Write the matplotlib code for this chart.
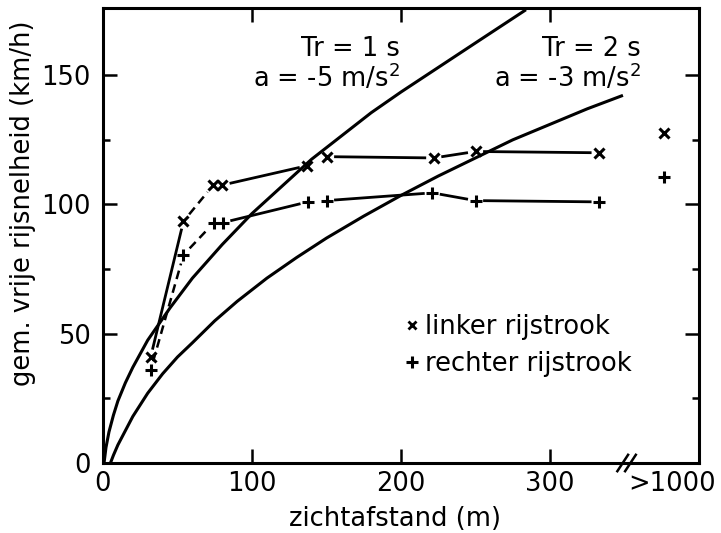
import numpy as np
import matplotlib.pyplot as plt
from matplotlib.lines import Line2D

plt.rcParams['font.family'] = ['DejaVu Sans']

# stopping-sight curves, values (m -> km/h)
curve1_x = [0.7, 2, 4, 7, 10, 15, 20, 30, 45, 60, 80, 100, 120, 140, 160, 180, 200, 225, 250, 283]
curve1_y = [0, 6, 12, 18.5, 24, 31, 37, 47.5, 60, 71.5, 84.5, 96.5, 107, 117.5, 126.5, 135.5, 143.5, 153, 162.5, 175]
curve2_x = [5, 7, 10, 15, 20, 25, 30, 40, 50, 60, 75, 90, 110, 130, 150, 175, 200, 225, 250, 275, 300, 325, 348]
curve2_y = [0, 3, 7, 12.5, 18, 22.5, 27, 34.5, 41, 46.5, 55, 62.5, 71.5, 79.5, 87, 95.5, 103.5, 111, 118, 125, 131, 137, 142]

# measured mean free speeds
linker_x = [32, 54, 74, 80, 137, 150, 222, 250, 333]
linker_y = [41, 93.5, 107.5, 107.5, 115, 118.5, 118, 120.5, 120]
rechter_x = [32, 54, 74.5, 80.5, 137.5, 150, 221, 250, 333]
rechter_y = [36, 80.5, 93, 93, 101, 101.5, 104.5, 101.5, 101]

# the ">1000 m" column
far_x = 376.5
far_linker = 127.5
far_rechter = 110.5

xtick_pos = [0, 100, 200, 300, 382]
xtick_lab = ['0', '100', '200', '300', '>1000']

# line style of each connecting segment (None = no line)
linker_seg = ['-', '--', None, '-', None, '-', '-', '-']
rechter_seg = ['--', '--', None, '-', None, '-', '-', '-']

fig = plt.figure(figsize=(7.21, 5.33), dpi=100)
ax = fig.add_axes([103 / 721, 1 - 463 / 533, 596 / 721, 455 / 533])
ax.set_xlim(0, 400)
ax.set_ylim(0, 176)

fs = 18.5
ax.plot(curve1_x, curve1_y, color='k', lw=2.2)
ax.plot(curve2_x, curve2_y, color='k', lw=2.2)


def gapped(x0, y0, x1, y1, style, gap=9):
    # segment between two markers, shortened at both ends (in pixels)
    p0 = ax.transData.transform((x0, y0))
    p1 = ax.transData.transform((x1, y1))
    u = (p1 - p0) / np.hypot(*(p1 - p0))
    inv = ax.transData.inverted()
    a = inv.transform(p0 + u * gap)
    b = inv.transform(p1 - u * gap)
    if style == '--':
        ax.plot([a[0], b[0]], [a[1], b[1]], color='k', lw=1.8, dashes=(3.5, 2.2))
    else:
        ax.plot([a[0], b[0]], [a[1], b[1]], color='k', lw=2.0)


for i, st in enumerate(linker_seg):
    if st:
        gapped(linker_x[i], linker_y[i], linker_x[i + 1], linker_y[i + 1], st)
for i, st in enumerate(rechter_seg):
    if st:
        gapped(rechter_x[i], rechter_y[i], rechter_x[i + 1], rechter_y[i + 1], st)

ax.plot(linker_x, linker_y, 'x', color='k', ms=7.5, mew=2.2)
ax.plot(rechter_x, rechter_y, '+', color='k', ms=9, mew=2.2)
ax.plot([far_x], [far_linker], 'x', color='k', ms=7.5, mew=2.2)
ax.plot([far_x], [far_rechter], '+', color='k', ms=9, mew=2.2)

# annotations
ax.text(199, 160, 'Tr = 1 s', ha='right', va='center', fontsize=fs)
ax.text(199, 149, 'a = -5 m/s$^2$', ha='right', va='center', fontsize=fs)
ax.text(361, 160, 'Tr = 2 s', ha='right', va='center', fontsize=fs)
ax.text(361, 149, 'a = -3 m/s$^2$', ha='right', va='center', fontsize=fs)

handles = [Line2D([], [], marker='x', ls='none', color='k', ms=6, mew=2),
           Line2D([], [], marker='+', ls='none', color='k', ms=8, mew=2.2)]
ax.legend(handles, ['linker rijstrook', 'rechter rijstrook'], loc='upper left',
          bbox_to_anchor=(0.505, 0.327), frameon=False, fontsize=fs,
          borderpad=0, handlelength=0.6, handletextpad=0.2, labelspacing=0.42,
          borderaxespad=0)

# axes
for s in ax.spines.values():
    s.set_linewidth(2.2)
ax.set_xticks(xtick_pos)
ax.set_xticklabels(xtick_lab)
ax.set_yticks([0, 50, 100, 150])
ax.set_yticks([25, 75, 125], minor=True)
ax.tick_params(axis='both', which='major', direction='in', length=10, width=1.8,
               labelsize=fs, top=True, right=True)
ax.tick_params(axis='y', which='minor', direction='in', length=5, width=1.8,
               right=True)
ax.tick_params(axis='x', pad=6)
ax.tick_params(axis='y', pad=9)
xt = ax.xaxis.get_major_ticks()
for t in (xt[0], xt[-1]):
    t.tick1line.set_visible(False)
    t.tick2line.set_visible(False)

# axis break marks
for xo in (0.872, 0.885):
    ax.plot([xo - 0.009, xo + 0.009], [-0.018, 0.018], color='k', lw=1.8,
            transform=ax.transAxes, clip_on=False)

ax.set_xlabel('zichtafstand (m)', fontsize=fs)
ax.xaxis.set_label_coords(0.49, -0.095)
ax.set_ylabel('gem. vrije rijsnelheid (km/h)', fontsize=fs)
ax.yaxis.set_label_coords(-0.112, 0.57)

fig.savefig('out.png', dpi=100)
